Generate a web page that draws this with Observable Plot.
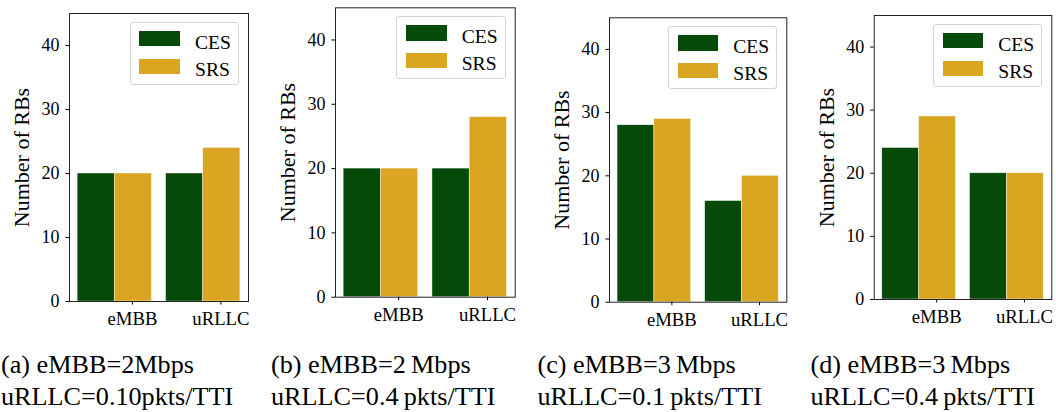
<!DOCTYPE html>
<html>
<head>
<meta charset="utf-8">
<script src="https://cdn.jsdelivr.net/npm/d3@7"></script>
<script src="https://cdn.jsdelivr.net/npm/@observablehq/plot@0.6"></script>
<style>
  body { margin: 0; background: #fff; }
  #root { position: relative; width: 1056px; height: 412px; overflow: hidden;
          font-family: "Liberation Serif", "Times New Roman", serif; color: #000; }
  .panel { position: absolute; top: 0; }
  .panel svg { overflow: visible; font-family: "Liberation Serif", "Times New Roman", serif !important; }
  .panel svg text { font-family: "Liberation Serif", "Times New Roman", serif; }
  .legend { position: absolute; box-sizing: border-box; border: 1px solid #d4d4d4;
            border-radius: 3px; background: rgba(255,255,255,0.85); }
  .legend .sw { position: absolute; }
  .legend .lab { position: absolute; font-size: 19.6px; line-height: 1; white-space: nowrap; }
  .capline { position: absolute; font-size: 26.2px; line-height: 32px; white-space: nowrap; }
</style>
</head>
<body>
<div id="root"></div>
<script>
// ---- data ----
const categories = ["eMBB", "uRLLC"];
const series = ["CES", "SRS"];
const cesA = [20, 20], srsA = [20, 24];
const cesB = [20, 20], srsB = [20, 28];
const cesC = [28, 16], srsC = [29, 20];
const cesD = [24, 20], srsD = [29, 20];
const yTicks = [0, 10, 20, 30, 40];
const yLabel = "Number of RBs";
const captionLine1 = ["(a) eMBB=2Mbps", "(b) eMBB=2\u2009Mbps", "(c) eMBB=3\u2009Mbps", "(d) eMBB=3\u2009Mbps"];
const captionLine2 = ["uRLLC=0.10pkts/TTI", "uRLLC=0.4\u2009pkts/TTI", "uRLLC=0.1\u2009pkts/TTI", "uRLLC=0.4\u2009pkts/TTI"];
const colors = ["#054a09", "#daa520"];

// ---- layout (positions only) ----
const layout = [
  {left: 0,   width: 264, height: 340, mL: 69,   mR: 16,   mT: 13,   mB: 39,   capX: 1},
  {left: 264, width: 264, height: 340, mL: 71,   mR: 13.3, mT: 7.3,  mB: 43.3, capX: 271},
  {left: 528, width: 264, height: 340, mL: 81,   mR: 5.7,  mT: 17.3, mB: 38.3, capX: 537.5},
  {left: 792, width: 264, height: 340, mL: 81.7, mR: 4.7,  mT: 15,   mB: 41,   capX: 810.5}
];
const panelsData = [[cesA, srsA], [cesB, srsB], [cesC, srsC], [cesD, srsD]];

const FONT = '"Liberation Serif", "Times New Roman", serif';
const barW = 0.42;
const tickShift = 0.2;
const root = document.getElementById("root");

panelsData.forEach(([ces, srs], p) => {
  const L = layout[p];
  const rows = [];
  categories.forEach((c, i) => {
    rows.push({category: c, series: series[0], value: ces[i], x1: i - barW, x2: i});
    rows.push({category: c, series: series[1], value: srs[i], x1: i, x2: i + barW});
  });
  const tickPos = categories.map((c, i) => i + tickShift);

  const plot = Plot.plot({
    width: L.width,
    height: L.height,
    marginLeft: L.mL,
    marginRight: L.mR,
    marginTop: L.mT,
    marginBottom: L.mB,
    style: `font-family: ${FONT}; font-size: 18px; color: #000; background: transparent; overflow: visible;`,
    x: {type: "linear", domain: [-barW - 0.092, 1 + barW + 0.092]},
    y: {domain: [0, 45]},
    color: {domain: series, range: colors},
    marks: [
      Plot.rect(rows, {x1: "x1", x2: "x2", y1: 0, y2: "value", fill: "series", stroke: "#ffffff", strokeWidth: 0.6, strokeOpacity: 0.7}),
      Plot.frame({stroke: "#222", strokeWidth: 1}),
      Plot.axisY({ticks: yTicks, tickSize: 3.5, tickPadding: 6.5, fontSize: 18, fontFamily: FONT, label: null, tickFormat: d => String(d)}),
      Plot.axisX({ticks: tickPos, tickSize: 3.5, tickPadding: 7, fontSize: 18.7, fontFamily: FONT, label: null,
                  tickFormat: d => categories[Math.round(d - tickShift)]}),
      Plot.text([yLabel], {text: d => d, frameAnchor: "left", dx: -47.5, rotate: -90, fontSize: 22, fontFamily: FONT,
                           textAnchor: "middle", lineAnchor: "middle"})
    ]
  });

  const div = document.createElement("div");
  div.className = "panel";
  div.style.left = L.left + "px";
  div.style.width = L.width + "px";
  div.style.height = L.height + "px";
  div.appendChild(plot);

  // legend (upper right inside the frame)
  const lgW = 109.5, lgH = 62.5;
  const frameRight = L.width - L.mR;
  const lg = document.createElement("div");
  lg.className = "legend";
  lg.style.left = (frameRight - 9 - lgW) + "px";
  lg.style.top = (L.mT + 9) + "px";
  lg.style.width = lgW + "px";
  lg.style.height = lgH + "px";
  series.forEach((s, k) => {
    const sw = document.createElement("div");
    sw.className = "sw";
    sw.style.left = "8.8px";
    sw.style.top = (8.2 + k * 27.5) + "px";
    sw.style.width = "40.7px";
    sw.style.height = "15.3px";
    sw.style.background = colors[k];
    lg.appendChild(sw);
    const lab = document.createElement("div");
    lab.className = "lab";
    lab.style.left = "64.5px";
    lab.style.top = (9.5 + k * 27.5) + "px";
    lab.textContent = s;
    lg.appendChild(lab);
  });
  div.appendChild(lg);
  root.appendChild(div);

  [captionLine1[p], captionLine2[p]].forEach((t, k) => {
    const line = document.createElement("div");
    line.className = "capline";
    line.style.left = L.capX + "px";
    line.style.top = (349.2 + k * 32) + "px";
    line.textContent = t;
    root.appendChild(line);
  });
});
</script>
</body>
</html>
